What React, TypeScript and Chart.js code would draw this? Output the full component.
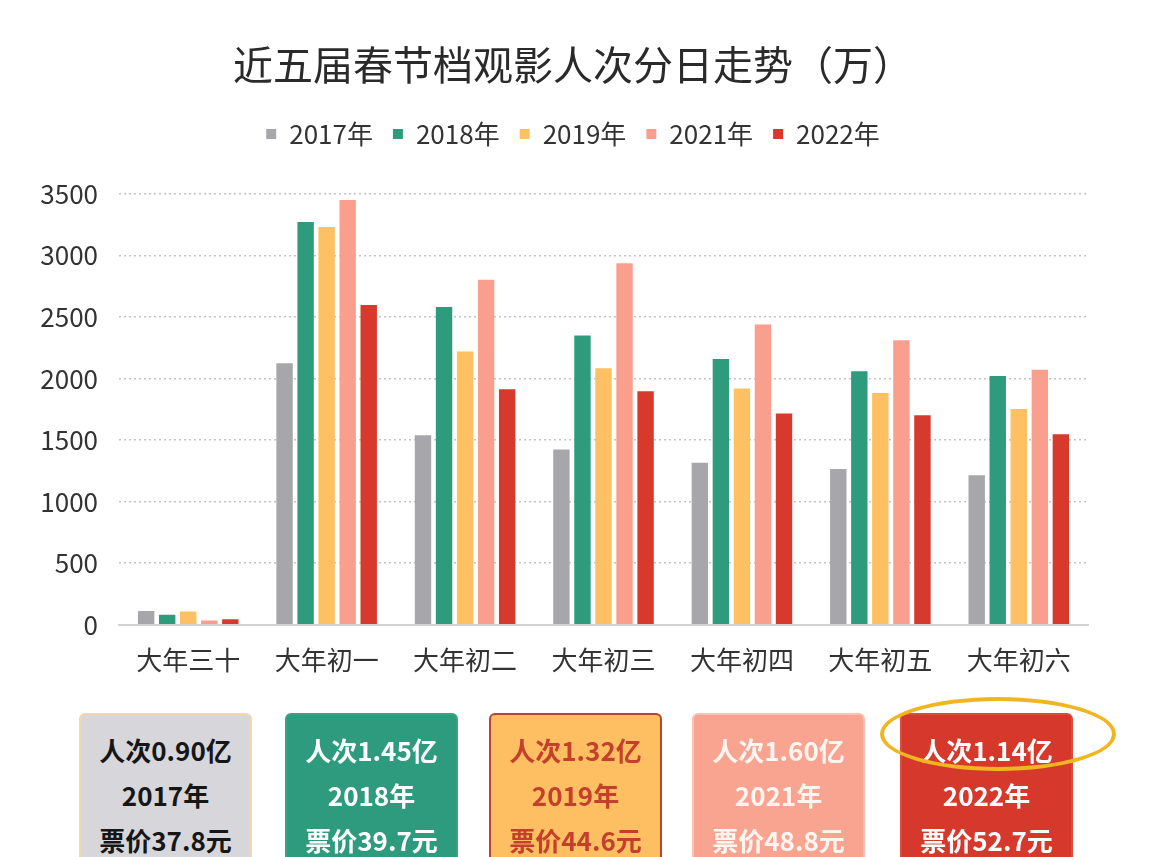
import React, { useEffect, useRef } from 'react';
import { Chart, registerables } from 'chart.js';

Chart.register(...registerables);

// ---- data ----
const categories = ['大年三十', '大年初一', '大年初二', '大年初三', '大年初四', '大年初五', '大年初六'];
const seriesNames = ['2017年', '2018年', '2019年', '2021年', '2022年'];
const values2017 = [113, 2125, 1540, 1424, 1316, 1265, 1216];
const values2018 = [81, 3272, 2581, 2351, 2159, 2059, 2021];
const values2019 = [108, 3232, 2221, 2084, 1919, 1883, 1754];
const values2021 = [35, 3452, 2803, 2937, 2440, 2311, 2073];
const values2022 = [46, 2598, 1913, 1897, 1716, 1703, 1549];
const seriesValues = [values2017, values2018, values2019, values2021, values2022];
const seriesColors = ['#a7a6ab', '#2e9b7d', '#fdc062', '#fa9f8e', '#d7392d'];
const yMin = 0;
const yMax = 3500;
const yStep = 500;
const titleText = '近五届春节档观影人次分日走势（万）';

const summaryAttendance = ['人次0.90亿', '人次1.45亿', '人次1.32亿', '人次1.60亿', '人次1.14亿'];
const summaryYears = ['2017年', '2018年', '2019年', '2021年', '2022年'];
const summaryPrices = ['票价37.8元', '票价39.7元', '票价44.6元', '票价48.8元', '票价52.7元'];

// ---- styles ----
const FONT = '"Noto Sans CJK SC", "Noto Sans", sans-serif';
const boxLefts = [79, 285, 489, 692, 900];
const boxBg = ['#d7d7db', '#2f9b7e', '#fdbf62', '#f9a491', '#d6382c'];
const boxText = ['#161616', '#ffffff', '#c5402c', '#fff6f2', '#ffffff'];
const boxBorder = ['#f1d6ae', '#3aa386', '#b9432f', '#fbc2b3', '#dc4b3f'];

const PAD_LEFT = 30;
const LEGEND_GAP = 37;
const HEADER_SHIFT = 14;

const headerPlugin = {
  id: 'headerPlugin',
  beforeLayout(chart: any) {
    const lg = chart.legend;
    if (lg && !lg.__patched) {
      lg.__patched = true;
      const origFit = lg.fit.bind(lg);
      lg.fit = function () {
        origFit();
        this.height += LEGEND_GAP;
      };
    }
  },
  afterLayout(chart: any) {
    for (const b of [chart.titleBlock, chart.legend]) {
      if (b) {
        b.left += HEADER_SHIFT;
        b.right += HEADER_SHIFT;
      }
    }
  },
};

function ChartCanvas() {
  const ref = useRef<HTMLCanvasElement | null>(null);
  useEffect(() => {
    if (!ref.current) return;
    const chart = new Chart(ref.current, {
      type: 'bar',
      data: {
        labels: categories,
        datasets: seriesNames.map((name, i) => ({
          label: name,
          data: seriesValues[i],
          backgroundColor: seriesColors[i],
          borderWidth: 0,
          categoryPercentage: 0.76,
          barPercentage: 0.78,
        })),
      },
      options: {
        responsive: false,
        animation: false,
        layout: { padding: { left: PAD_LEFT, right: 80, top: 0, bottom: 4 } },
        plugins: {
          title: {
            display: true,
            text: titleText,
            color: '#2a2a2a',
            font: { family: FONT, size: 40, weight: 'normal' },
            padding: { top: 41, bottom: 12 },
          },
          legend: {
            display: true,
            position: 'top',
            labels: {
              boxWidth: 10,
              boxHeight: 10,
              padding: 20,
              color: '#333333',
              font: { family: FONT, size: 26 },
            },
          },
          tooltip: { enabled: false },
        },
        scales: {
          x: {
            grid: { display: false, drawTicks: false },
            border: { display: true, color: '#d2d2d2', width: 2 },
            ticks: {
              color: '#333333',
              padding: 20,
              font: { family: FONT, size: 26 },
            },
          },
          y: {
            min: yMin,
            max: yMax,
            afterFit: (scale: any) => {
              scale.width = 119 - PAD_LEFT;
            },
            ticks: {
              stepSize: yStep,
              color: '#333333',
              padding: 21,
              font: { family: FONT, size: 26 },
              callback: (v: any) => String(v),
            },
            grid: {
              drawTicks: false,
              lineWidth: 1.6,
              color: (ctx: any) => (ctx.tick && ctx.tick.value === 0 ? 'rgba(0,0,0,0)' : '#c2c2c2'),
            },
            border: { display: false, dash: [2, 3] },
          },
        },
      },
      plugins: [headerPlugin],
    });
    return () => chart.destroy();
  }, []);
  return <canvas ref={ref} width={1168} height={700} style={{ width: 1168, height: 700, display: 'block' }} />;
}

export default function App() {
  return (
    <div
      style={{
        position: 'absolute',
        left: 0,
        top: 0,
        width: 1168,
        height: 857,
        overflow: 'hidden',
        background: '#ffffff',
        fontFamily: FONT,
      }}
    >
      <div style={{ position: 'absolute', left: 0, top: 0 }}>
        <ChartCanvas />
      </div>
      {summaryAttendance.map((t, i) => (
        <div
          key={i}
          style={{
            position: 'absolute',
            left: boxLefts[i],
            top: 713,
            width: 173,
            height: 170,
            boxSizing: 'border-box',
            background: boxBg[i],
            border: `2px solid ${boxBorder[i]}`,
            borderRadius: 6,
            color: boxText[i],
            fontWeight: 700,
            fontSize: 26,
            lineHeight: '45px',
            textAlign: 'center',
            paddingTop: 12,
          }}
        >
          <div>{t}</div>
          <div>{summaryYears[i]}</div>
          <div>{summaryPrices[i]}</div>
        </div>
      ))}
      <div
        style={{
          position: 'absolute',
          left: 880,
          top: 697,
          width: 236,
          height: 74,
          boxSizing: 'border-box',
          border: '4px solid #f1b51f',
          borderRadius: '50%',
        }}
      />
    </div>
  );
}
